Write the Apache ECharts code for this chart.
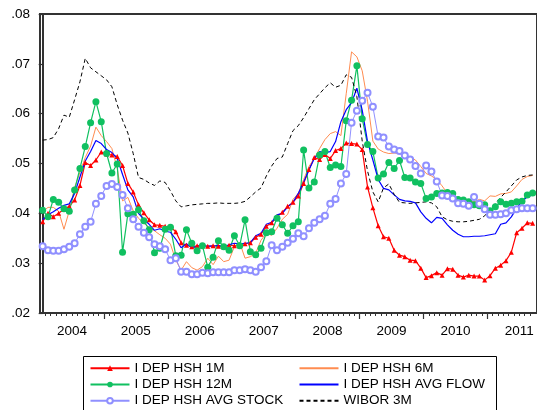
<!DOCTYPE html>
<html><head><meta charset="utf-8">
<script src="https://cdn.jsdelivr.net/npm/echarts@6/dist/echarts.min.js"></script>
<style>html,body{margin:0;padding:0;background:#fff}#c{width:537px;height:410px}</style>
</head><body><div id="c"></div>
<script>
// Monthly observations, 2004M01 .. 2011M09 (index 0..92)
const yearLabels = ['2004','2005','2006','2007','2008','2009','2010','2011'];
const seriesNames = ['I DEP HSH 1M','I DEP HSH 6M','I DEP HSH 12M','I DEP HSH AVG FLOW','I DEP HSH AVG STOCK','WIBOR 3M'];

const dep1m = [
.0383,.0400,.0393,.0400,.0408,.0414,.0427,.0456,.0502,.0496,.0507,.0523,
.0519,.0517,.0514,.0496,.0460,.0443,.0417,.0401,.0387,.0377,.0376,.0374,
.0373,.0363,.0341,.0336,.0333,.0335,.0336,.0334,.0335,.0334,.0333,.0336,
.0335,.0337,.0339,.0341,.0352,.0358,.0374,.0381,.0393,.0402,.0414,.0422,
.0435,.0460,.0488,.0512,.0508,.0518,.0510,.0526,.0530,.0541,.0540,.0539,
.0528,.0453,.0411,.0375,.0353,.0350,.0326,.0316,.0313,.0306,.0305,.0290,
.0271,.0275,.0281,.0276,.0289,.0288,.0276,.0272,.0276,.0274,.0274,.0266,
.0275,.0290,.0296,.0305,.0322,.0361,.0370,.0381,.0380];

const dep6m = [
.0403,.0412,.0412,.0404,.0368,.0405,.0452,.0482,.0512,.0535,.0573,.0556,
.0544,.0530,.0490,.0425,.0432,.0405,.0390,.0380,.0372,.0365,.0357,.0350,
.0338,.0306,.0286,.0303,.0291,.0286,.0293,.0310,.0297,.0314,.0303,.0306,
.0333,.0341,.0310,.0313,.0320,.0346,.0360,.0356,.0370,.0388,.0398,.0428,
.0440,.0468,.0494,.0510,.0530,.0548,.0560,.0564,.0556,.0640,.0724,.0714,
.0686,.0625,.0545,.0529,.0523,.0520,.0521,.0520,.0516,.0513,.0507,.0494,
.0480,.0475,.0468,.0455,.0440,.0435,.0430,.0428,.0425,.0423,.0428,.0425,
.0435,.0434,.0439,.0440,.0443,.0455,.0468,.0474,.0476];

const dep12m = [
.0406,.0393,.0428,.0422,.0409,.0404,.0447,.0490,.0534,.0582,.0624,.0584,
.0520,.0481,.0499,.0322,.0399,.0398,.0407,.0385,.0367,.0321,.0330,.0368,
.0372,.0315,.0316,.0367,.0340,.0325,.0335,.0292,.0312,.0345,.0333,.0326,
.0355,.0335,.0387,.0323,.0317,.0330,.0361,.0363,.0390,.0377,.0360,.0375,
.0383,.0527,.0451,.0463,.0517,.0524,.0492,.0497,.0494,.0586,.0627,.0696,
.0590,.0538,.0524,.0471,.0479,.0502,.0490,.0506,.0472,.0471,.0463,.0460,
.0430,.0433,.0440,.0441,.0442,.0440,.0428,.0427,.0423,.0417,.0415,.0417,
.0405,.0413,.0423,.0418,.0420,.0423,.0424,.0437,.0441];

const depAvgFlow = [
.0387,.0397,.0403,.0410,.0416,.0419,.0440,.0473,.0505,.0524,.0546,.0540,
.0528,.0522,.0510,.0478,.0447,.0433,.0400,.0388,.0378,.0366,.0369,.0364,
.0362,.0348,.0331,.0339,.0331,.0334,.0335,.0334,.0334,.0336,.0333,.0337,
.0340,.0339,.0340,.0341,.0355,.0360,.0378,.0382,.0397,.0400,.0413,.0422,
.0440,.0463,.0487,.0510,.0524,.0522,.0524,.0544,.0584,.0608,.0622,.0651,
.0607,.0544,.0507,.0468,.0450,.0447,.0437,.0428,.0425,.0424,.0421,.0403,
.0390,.0381,.0392,.0390,.0377,.0366,.0358,.0353,.0353,.0354,.0354,.0355,
.0357,.0359,.0378,.0381,.0393,.0410,.0424,.0433,.0437];

const depAvgStock = [
.0334,.0326,.0325,.0325,.0328,.0333,.0340,.0358,.0373,.0383,.0419,.0435,
.0455,.0459,.0453,.0437,.0410,.0388,.0373,.0361,.0352,.0338,.0334,.0328,
.0306,.0310,.0283,.0283,.0278,.0278,.0281,.0280,.0282,.0282,.0282,.0282,
.0286,.0286,.0288,.0286,.0283,.0292,.0304,.0336,.0326,.0333,.0341,.0349,
.0360,.0354,.0370,.0381,.0388,.0395,.0419,.0429,.0460,.0479,.0582,.0606,
.0626,.0642,.0614,.0554,.0552,.0534,.0528,.0525,.0516,.0508,.0495,.0480,
.0496,.0484,.0464,.0436,.0435,.0430,.0420,.0419,.0415,.0433,.0419,.0408,
.0397,.0397,.0398,.0400,.0406,.0408,.0410,.0410,.0410];

const wibor3m = [
.0547,.0548,.0552,.0570,.0597,.0593,.0628,.0664,.0711,.0692,.0684,.0676,
.0668,.0654,.0618,.0587,.0561,.0520,.0472,.0468,.0461,.0456,.0465,.0462,
.0445,.0425,.0413,.0415,.0417,.0418,.0419,.0420,.0420,.0421,.0420,.0420,
.0420,.0421,.0424,.0433,.0443,.0451,.0475,.0495,.0510,.0513,.0540,.0566,
.0576,.0592,.0610,.0628,.0640,.0652,.0662,.0653,.0657,.0678,.0673,.0634,
.0545,.0485,.0443,.0423,.0451,.0459,.0438,.0422,.0421,.0420,.0421,.0422,
.0423,.0421,.0413,.0393,.0387,.0384,.0383,.0383,.0384,.0386,.0388,.0395,
.0408,.0420,.0432,.0443,.0455,.0467,.0473,.0476,.0477];

const FONT = '"Liberation Sans", Arial, Helvetica, sans-serif';
const toXY = arr => arr.map((v, i) => [i, v]);
const XMIN = -0.5, XMAX = 92.82;

const labelPos = yearLabels.map((y, k) => 5.5 + 12 * k);
const majorTicks = [];
for (let k = 1; k < yearLabels.length; k++) majorTicks.push(-0.5 + 12 * k);
const minorTicks = [];
for (let m = 0; m < 92; m++) { if ((m + 1) % 12 !== 0) minorTicks.push(m + 0.5); }

const chart = echarts.init(document.getElementById('c'), null, {renderer: 'canvas'});
const txt = {fontFamily: FONT, fontSize: 13.5, color: '#000'};
const noMark = name => ({name: name, itemStyle: {opacity: 0}});

chart.setOption({
  animation: false,
  backgroundColor: '#fff',
  grid: {left: 40, top: 14, width: 499, height: 299, show: true, borderColor: '#333', borderWidth: 2},
  xAxis: [
    {type: 'value', min: XMIN, max: XMAX, position: 'bottom',
     axisLine: {show: true, onZero: false, lineStyle: {color: '#333', width: 2}},
     axisTick: {show: true, customValues: majorTicks, length: 6, lineStyle: {color: '#333', width: 1.2}},
     axisLabel: Object.assign({show: true, customValues: labelPos, margin: 11,
       formatter: v => yearLabels[Math.round((v - 5.5) / 12)]}, txt),
     splitLine: {show: false}},
    {type: 'value', min: XMIN, max: XMAX, position: 'bottom',
     axisLine: {show: false, onZero: false},
     axisTick: {show: true, customValues: minorTicks, length: 3, lineStyle: {color: '#333', width: 1}},
     axisLabel: {show: false}, splitLine: {show: false}}
  ],
  yAxis: {type: 'value', min: 0.02, max: 0.08, interval: 0.01,
    axisLine: {show: true, lineStyle: {color: '#333', width: 2}},
    axisTick: {show: true, length: 4, lineStyle: {color: '#333', width: 1.2}},
    axisLabel: Object.assign({margin: 10, formatter: v => v.toFixed(2).replace(/^0/, '')}, txt),
    splitLine: {show: false}},
  legend: [
    {data: [seriesNames[0], seriesNames[2], seriesNames[4]], orient: 'vertical', left: 89.5, top: 360,
     itemWidth: 39, itemHeight: 7, itemGap: 0, padding: 0, selectedMode: false,
     textStyle: Object.assign({lineHeight: 16.3}, txt)},
    {data: [noMark(seriesNames[1]), noMark(seriesNames[3]), noMark(seriesNames[5])], orient: 'vertical', left: 298.5, top: 360,
     itemWidth: 39, itemHeight: 7, itemGap: 0, padding: 0, selectedMode: false,
     textStyle: Object.assign({lineHeight: 16.3}, txt)}
  ],
  graphic: [{type: 'rect', shape: {x: 83.5, y: 356.5, width: 413, height: 70},
    style: {fill: 'none', stroke: '#000', lineWidth: 1}, silent: true}],
  series: [
    {name: seriesNames[0], type: 'line', data: toXY(dep1m), symbol: 'triangle', symbolSize: 5,
     lineStyle: {color: '#ff0000', width: 1.2}, itemStyle: {color: '#ff0000'}},
    {name: seriesNames[1], type: 'line', data: toXY(dep6m), symbol: 'none',
     lineStyle: {color: '#ff8c50', width: 1}, itemStyle: {color: '#ff8c50'}},
    {name: seriesNames[2], type: 'line', data: toXY(dep12m), symbol: 'circle', symbolSize: 7,
     lineStyle: {color: '#10c060', width: 1.2}, itemStyle: {color: '#10c060'}},
    {name: seriesNames[3], type: 'line', data: toXY(depAvgFlow), symbol: 'none',
     lineStyle: {color: '#0000ff', width: 1.2}, itemStyle: {color: '#0000ff'}},
    {name: seriesNames[4], type: 'line', data: toXY(depAvgStock), symbol: 'emptyCircle', symbolSize: 6,
     lineStyle: {color: '#9090ff', width: 1}, itemStyle: {color: '#9090ff', borderWidth: 1}},
    {name: seriesNames[5], type: 'line', data: toXY(wibor3m), symbol: 'none',
     lineStyle: {color: '#000', width: 1, type: [4, 3]}, itemStyle: {color: '#000'}}
  ]
});
</script></body></html>
